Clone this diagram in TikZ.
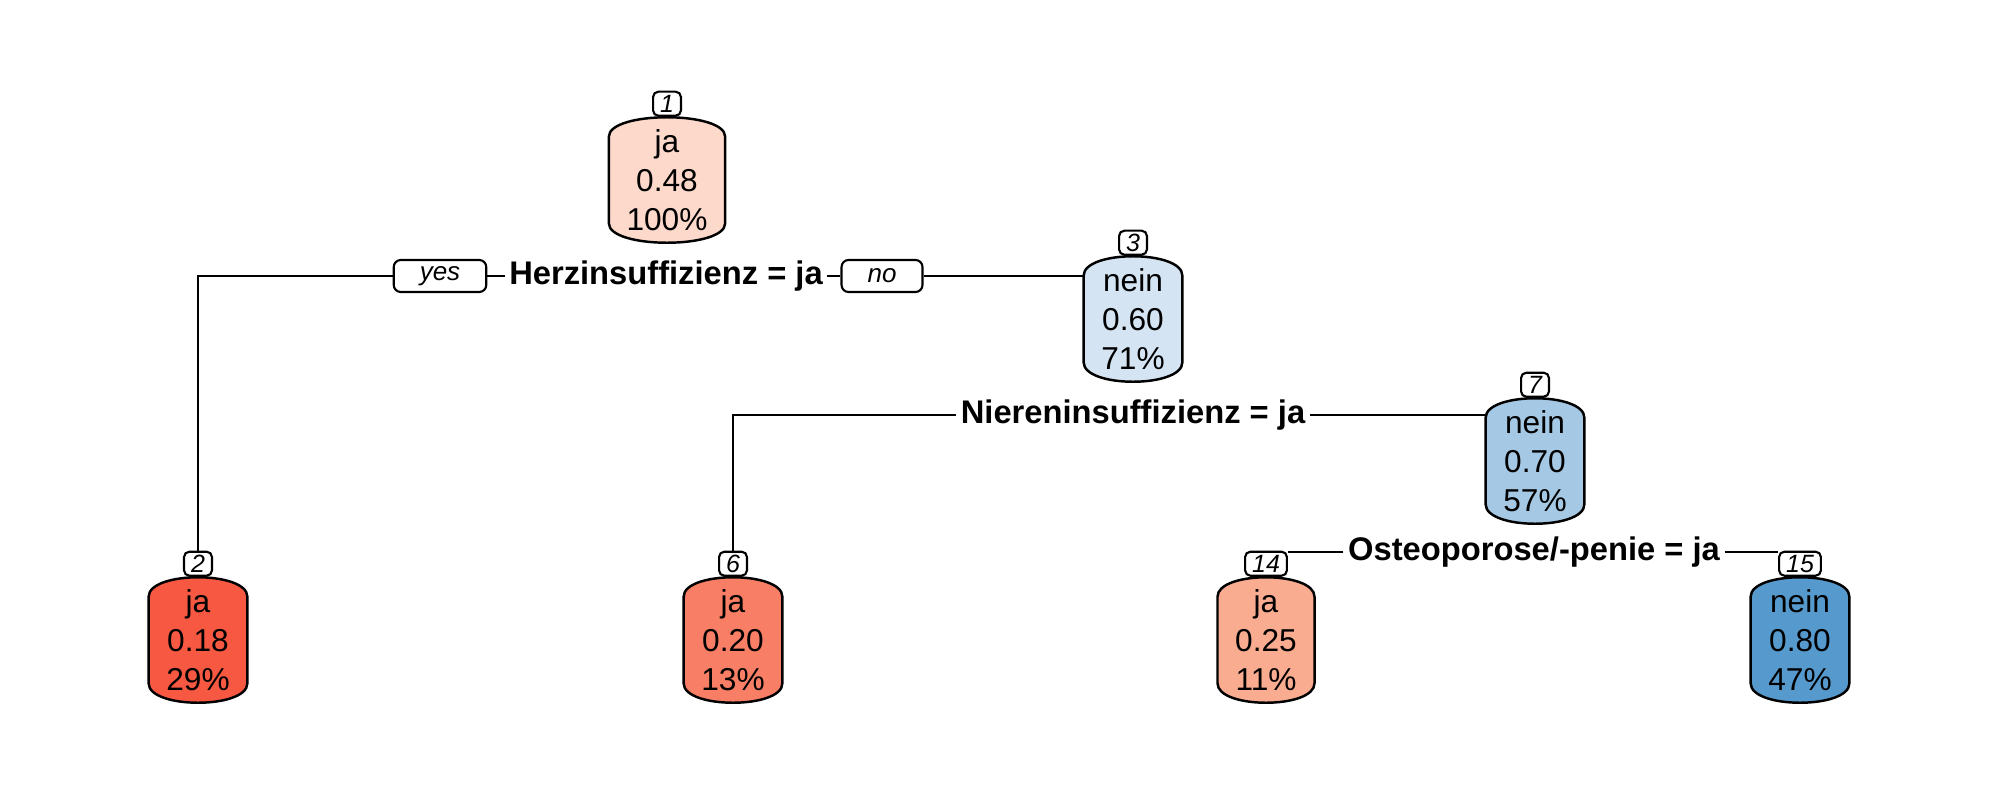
\documentclass[tikz,border=0pt]{standalone}
\usepackage{fontspec}
\setmainfont{Liberation Sans}
\usetikzlibrary{positioning,calc,backgrounds}
\definecolor{fill-1}{RGB}{252,217,203}
\definecolor{fill-2}{RGB}{247,88,66}
\definecolor{fill-3}{RGB}{213,228,243}
\definecolor{fill-6}{RGB}{248,127,101}
\definecolor{fill-7}{RGB}{165,200,228}
\definecolor{fill-14}{RGB}{250,172,145}
\definecolor{fill-15}{RGB}{86,153,204}

\begin{document}
\begin{tikzpicture}[
        x={(0.01cm,0)},
        y={(0,-0.01cm)},
        box/.style={
            rectangle,
            minimum width=0.95cm,
            minimum height=1.25cm,
            inner xsep=0.17cm,
            inner ysep=0pt,
            align=center,
            font=\fontsize{9}{11.1}\selectfont
        },
        number/.style={
            rectangle,
            draw,
            fill=white,
            line width=0.6pt,
            rounded corners=1.5pt,
            inner xsep=0.07cm,
            inner ysep=0pt,
            minimum height=0.24cm,
            font=\itshape\fontsize{7.1}{8}\selectfont
        },
        answer/.style={
            rectangle,
            draw,
            fill=white,
            line width=0.6pt,
            rounded corners=2pt,
            inner xsep=0.26cm,
            inner ysep=0pt,
            minimum height=0.32cm,
            font=\itshape\fontsize{7.4}{8}\selectfont
        },
        split/.style={
            fill=white,
            inner xsep=0.04cm,
            inner ysep=1pt,
            font=\bfseries\fontsize{9.3}{11}\selectfont
        },
        line/.style={
            draw,
            line width=0.6pt
        },
        can/.style={
            draw,
            line width=0.7pt
        },
      ]
        \useasboundingbox (0,0) rectangle (2000,800);
        \node [box] (node-1) at (667,180) {ja\\0.48\\100\%};
        \node [box] (node-3) at (1133,319) {nein\\0.60\\71\%};
        \node [box] (node-7) at (1535,461) {nein\\0.70\\57\%};
        \node [box] (node-2) at (198,640) {ja\\0.18\\29\%};
        \node [box] (node-6) at (733,640) {ja\\0.20\\13\%};
        \node [box] (node-14) at (1266,640) {ja\\0.25\\11\%};
        \node [box] (node-15) at (1800,640) {nein\\0.80\\47\%};
        \foreach \n in {1,3,7,2,6,14,15}
            \node [number,above=0pt of node-\n] (label-\n) {\n};
        \node [split] (split-1) at (666,276) {Herzinsuffizienz = ja};
        \node [answer] (yes) at (440,276) {yes};
        \node [answer] (no) at (882,276) {no};
        \node [split] (split-2) at (1133,415) {Niereninsuffizienz = ja};
        \node [split] (split-3) at (1534,552) {Osteoporose/-penie = ja};
        \path [line] (yes) -| (label-2);
        \path [line] (yes) -- (split-1);
        \path [line] (split-1) -- (no);
        \path [line] (no.east) -- (no.east -| node-3.west);
        \path [line] (split-2) -| (label-6);
        \path [line] (split-2.east) -- (split-2.east -| node-7.west);
        \path [line] (split-3.west) -- (split-3.west -| label-14.east);
        \path [line] (split-3.east) -- (split-3.east -| label-15.west);
        \begin{pgfonlayer}{background}
            \foreach \n in {1,3,7,2,6,14,15}
                \path [can,fill=fill-\n]
                    ($(node-\n.north west)+(0,20)$)
                    .. controls ($(node-\n.north west)+(0,-6)$) and ($(node-\n.north east)+(0,-6)$) ..
                    ($(node-\n.north east)+(0,20)$)
                    -- ($(node-\n.south east)+(0,-20)$)
                    .. controls ($(node-\n.south east)+(0,6)$) and ($(node-\n.south west)+(0,6)$) ..
                    ($(node-\n.south west)+(0,-20)$)
                    -- cycle;
        \end{pgfonlayer}
      \end{tikzpicture}
\end{document}
